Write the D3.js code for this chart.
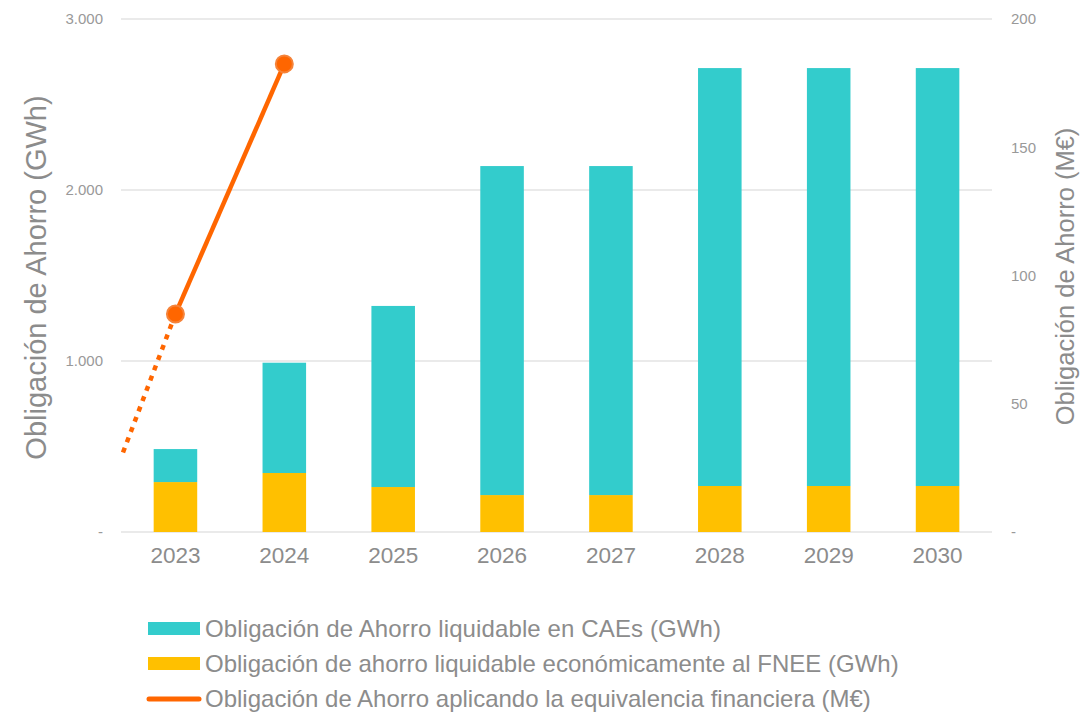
<!DOCTYPE html>
<html>
<head>
<meta charset="utf-8">
<script src="https://cdn.jsdelivr.net/npm/d3@7"></script>
<style>
    body { margin: 0; background: #fff; }
    svg { font-family: "Liberation Sans", Arial, sans-serif; }
</style>
</head>
<body>
<div id="chart"></div>
<script>
const years = ["2023", "2024", "2025", "2026", "2027", "2028", "2029", "2030"];
const caes = [193, 645, 1059, 1924, 1924, 2444, 2444, 2444];
const fnee = [292, 345, 263, 216, 216, 269, 269, 269];
const equivYears = ["2023", "2024"];
const equivValues = [85, 182.5];
const equivStart = 31; // dotted lead-in at the left edge of the plot

const leftTicks = [0, 1000, 2000, 3000];
const rightTicks = [0, 50, 100, 150, 200];

const legendLabels = [
    "Obligación de Ahorro liquidable en CAEs  (GWh)",
    "Obligación de ahorro liquidable económicamente al FNEE (GWh)",
    "Obligación de Ahorro aplicando la equivalencia financiera (M€)"
];

const colCaes = "#33CCCC";
const colFnee = "#FFC000";
const colLine = "#FF6600";
const textGray = "#8C8C8C";

const width = 1081, height = 712;
const margin = { top: 19, right: 89, bottom: 180, left: 121 };
const plotW = width - margin.left - margin.right;
const plotH = height - margin.top - margin.bottom;

const svg = d3.select("#chart").append("svg")
    .attr("width", width)
    .attr("height", height);

const g = svg.append("g").attr("transform", `translate(${margin.left},${margin.top})`);

const x = d3.scaleBand().domain(years).range([0, plotW]).paddingInner(0.6).paddingOuter(0.3);
const yL = d3.scaleLinear().domain([0, 3000]).range([plotH, 0]);
const yR = d3.scaleLinear().domain([0, 200]).range([plotH, 0]);

const fmt = d => d === 0 ? "-" : d3.format(",")(d).replace(/,/g, ".");

// gridlines
g.selectAll(".grid").data(leftTicks).enter().append("line")
    .attr("x1", 0).attr("x2", plotW)
    .attr("y1", d => yL(d)).attr("y2", d => yL(d))
    .attr("stroke", "#E3E3E3").attr("stroke-width", 1.3);

// left axis
const axL = g.append("g").call(d3.axisLeft(yL).tickValues(leftTicks).tickFormat(fmt).tickSize(0).tickPadding(18));
axL.select(".domain").remove();
axL.selectAll("text").attr("fill", "#999").attr("font-size", 15).attr("font-family", "Liberation Sans, Arial");

// right axis
const axR = g.append("g").attr("transform", `translate(${plotW},0)`)
    .call(d3.axisRight(yR).tickValues(rightTicks).tickFormat(fmt).tickSize(0).tickPadding(19));
axR.select(".domain").remove();
axR.selectAll("text").attr("fill", "#999").attr("font-size", 15).attr("font-family", "Liberation Sans, Arial");

// x axis
const axX = g.append("g").attr("transform", `translate(0,${plotH})`)
    .call(d3.axisBottom(x).tickSize(0).tickPadding(15));
axX.select(".domain").remove();
axX.selectAll("text").attr("fill", "#8C8C8C").attr("font-size", 22.5).attr("font-family", "Liberation Sans, Arial");

// stacked bars
const stackData = years.map((yr, i) => ({ year: yr, fnee: fnee[i], caes: caes[i] }));
const series = d3.stack().keys(["fnee", "caes"])(stackData);
const colors = { fnee: colFnee, caes: colCaes };

g.selectAll(".serie").data(series).enter().append("g")
    .attr("fill", d => colors[d.key])
    .selectAll("rect").data(d => d).enter().append("rect")
    .attr("x", d => x(d.data.year))
    .attr("width", x.bandwidth())
    .attr("y", d => yL(d[1]))
    .attr("height", d => yL(d[0]) - yL(d[1]));

// line series on right axis
const cx = yr => x(yr) + x.bandwidth() / 2;
const linePts = equivYears.map((yr, i) => [cx(yr), yR(equivValues[i])]);

g.append("line")
    .attr("x1", 2).attr("y1", yR(equivStart))
    .attr("x2", linePts[0][0]).attr("y2", linePts[0][1])
    .attr("stroke", colLine).attr("stroke-width", 4.5)
    .attr("stroke-dasharray", "5 6");

g.append("path")
    .attr("d", d3.line()(linePts))
    .attr("fill", "none").attr("stroke", colLine).attr("stroke-width", 4.5);

g.selectAll(".dot").data(linePts).enter().append("circle")
    .attr("cx", d => d[0]).attr("cy", d => d[1])
    .attr("r", 8.5)
    .attr("fill", colLine)
    .attr("stroke", "#F5833A").attr("stroke-width", 2);

// axis titles
svg.append("text")
    .attr("transform", `translate(46,${margin.top + plotH / 2 + 2}) rotate(-90)`)
    .attr("text-anchor", "middle")
    .attr("fill", textGray).attr("font-size", 29)
    .text("Obligación de Ahorro (GWh)");

svg.append("text")
    .attr("transform", `translate(1074,${margin.top + plotH / 2 + 1}) rotate(-90)`)
    .attr("text-anchor", "middle")
    .attr("fill", textGray).attr("font-size", 25.5)
    .text("Obligación de Ahorro (M€)");

// legend
const legend = svg.append("g").attr("transform", "translate(148,628)");
legendLabels.forEach((lab, i) => {
    const row = legend.append("g").attr("transform", `translate(0,${i * 35})`);
    if (i < 2) {
        row.append("rect").attr("x", 0).attr("y", -6).attr("width", 52).attr("height", 13)
            .attr("fill", i === 0 ? colCaes : colFnee);
    } else {
        row.append("line").attr("x1", 1).attr("x2", 51).attr("y1", 1).attr("y2", 1)
            .attr("stroke", colLine).attr("stroke-width", 5).attr("stroke-linecap", "round");
    }
    row.append("text").attr("x", 57).attr("y", 8.5)
        .attr("fill", textGray).attr("font-size", 24)
        .attr("textLength", i === 0 ? 516 : null)
        .text(lab);
});
</script>
</body>
</html>
